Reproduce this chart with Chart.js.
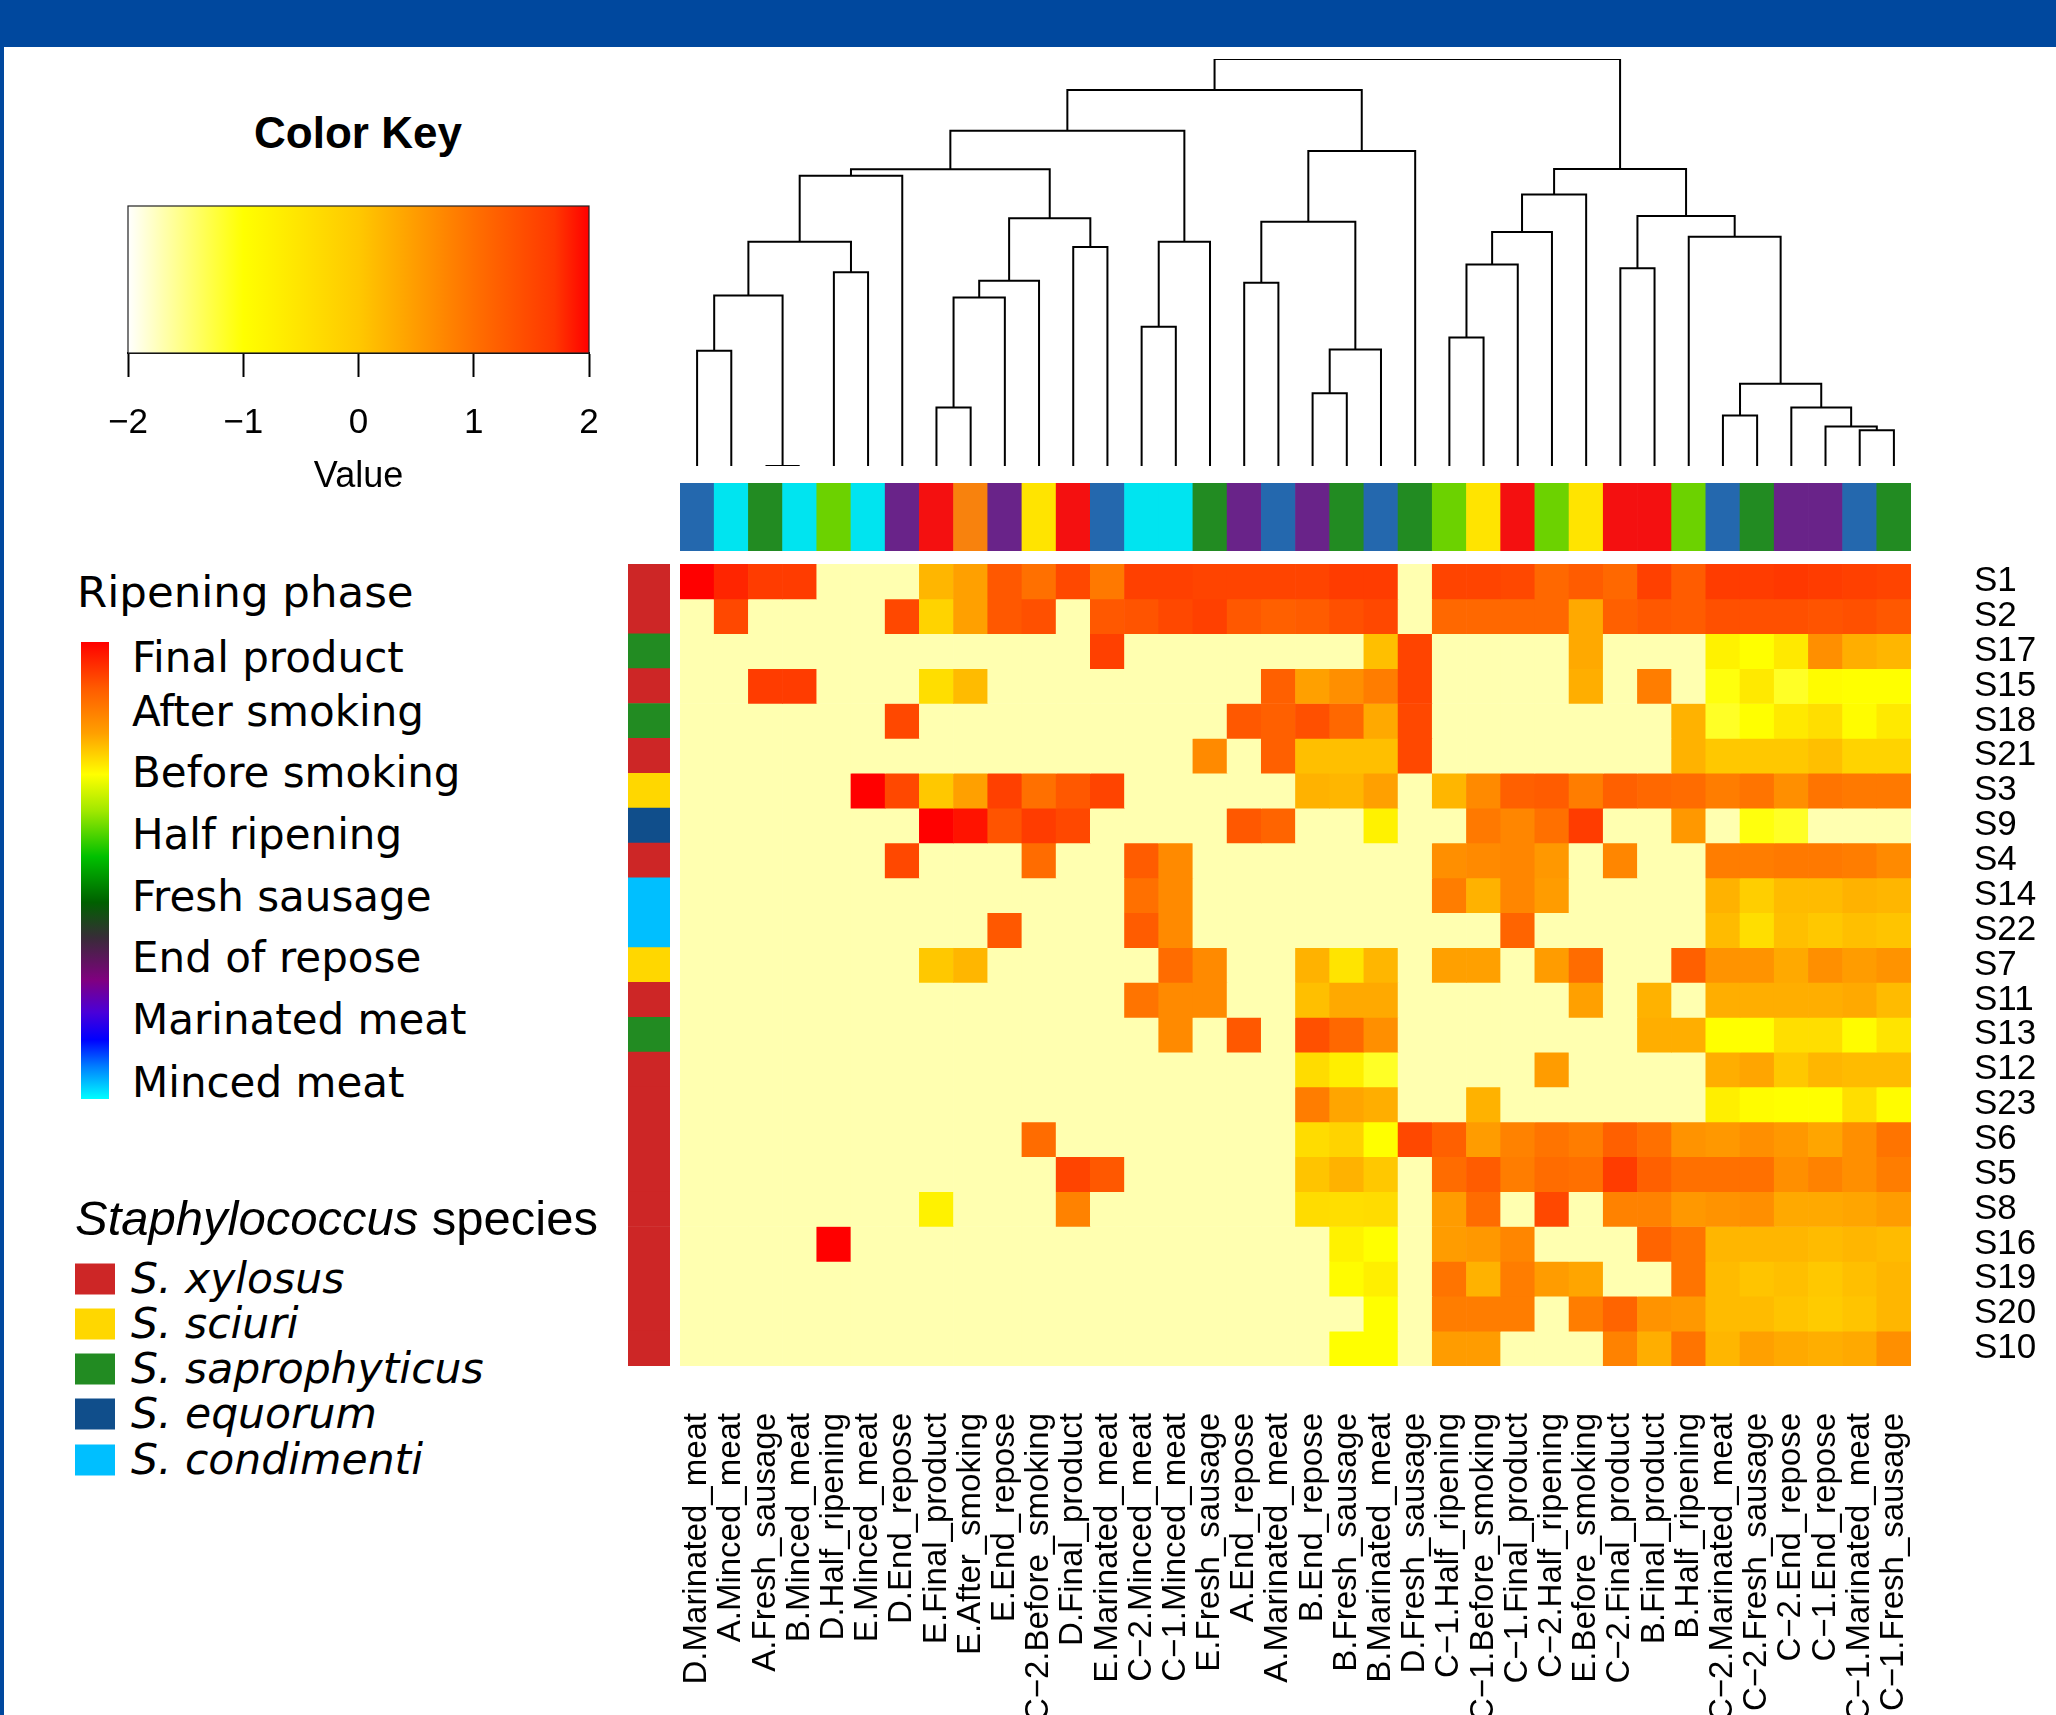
<!DOCTYPE html>
<html>
<head>
<meta charset="utf-8">
<script src="https://cdn.jsdelivr.net/npm/chart.js@4/dist/chart.umd.min.js"></script>
<style>
html,body{margin:0;padding:0;background:#fff;}
body{width:2056px;height:1715px;position:relative;overflow:hidden;}
#banner{position:absolute;left:0;top:0;width:2056px;height:47px;background:#00489E;}
#leftedge{position:absolute;left:0;top:0;width:4px;height:1715px;background:#00489E;}
canvas{position:absolute;}
.t{position:absolute;white-space:nowrap;color:#000;line-height:1;}
.ph{font-family:'DejaVu Sans',Verdana,sans-serif;font-size:42px;transform:translateY(-50%);left:132px;}
.sp{font-family:'DejaVu Sans',Verdana,sans-serif;font-style:italic;font-size:42.5px;transform:translateY(-50%);left:131px;}
.sq{position:absolute;left:75px;width:40px;height:31px;transform:translateY(-50%);}
</style>
</head>
<body>
<div id="banner"></div>
<div id="leftedge"></div>

<div class="t" style="left:358px;top:133px;transform:translate(-50%,-50%);font-family:'Liberation Sans',Arial,sans-serif;font-weight:bold;font-size:44px;">Color Key</div>

<div class="t" style="left:77px;top:593px;transform:translateY(-50%);font-family:'DejaVu Sans',Verdana,sans-serif;font-size:43.5px;">Ripening phase</div>
<div id="phaseGrad" style="position:absolute;left:81px;top:642px;width:28px;height:457px;"></div>
<div id="phaseLabels"></div>

<div class="t" style="left:75px;top:1218px;transform:translateY(-50%);font-family:'Liberation Sans',Arial,sans-serif;font-size:49px;"><i>Staphylococcus</i> species</div>
<div id="speciesLegend"></div>

<canvas id="keyChart" width="581" height="305" style="left:68px;top:196px;"></canvas>
<canvas id="dendro" width="1251" height="427" style="left:670px;top:49px;"></canvas>
<canvas id="phaseBar" width="1231" height="68" style="left:680px;top:483px;"></canvas>
<canvas id="speciesBar" width="42" height="802" style="left:628px;top:564px;"></canvas>
<canvas id="heat" width="1416" height="1251" style="left:640px;top:464px;"></canvas>

<script>
// ---------------- data ----------------
const columnLabels = ['D.Marinated_meat','A.Minced_meat','A.Fresh_sausage','B.Minced_meat','D.Half_ripening','E.Minced_meat','D.End_repose','E.Final_product','E.After_smoking','E.End_repose','C\u22122.Before_smoking','D.Final_product','E.Marinated_meat','C\u22122.Minced_meat','C\u22121.Minced_meat','E.Fresh_sausage','A.End_repose','A.Marinated_meat','B.End_repose','B.Fresh_sausage','B.Marinated_meat','D.Fresh_sausage','C\u22121.Half_ripening','C\u22121.Before_smoking','C\u22121.Final_product','C\u22122.Half_ripening','E.Before_smoking','C\u22122.Final_product','B.Final_product','B.Half_ripening','C\u22122.Marinated_meat','C\u22122.Fresh_sausage','C\u22122.End_repose','C\u22121.End_repose','C\u22121.Marinated_meat','C\u22121.Fresh_sausage'];

const columnPhases = ['Marinated meat','Minced meat','Fresh sausage','Minced meat','Half ripening','Minced meat','End of repose','Final product','After smoking','End of repose','Before smoking','Final product','Marinated meat','Minced meat','Minced meat','Fresh sausage','End of repose','Marinated meat','End of repose','Fresh sausage','Marinated meat','Fresh sausage','Half ripening','Before smoking','Final product','Half ripening','Before smoking','Final product','Final product','Half ripening','Marinated meat','Fresh sausage','End of repose','End of repose','Marinated meat','Fresh sausage'];

const rowLabels = ['S1','S2','S17','S15','S18','S21','S3','S9','S4','S14','S22','S7','S11','S13','S12','S23','S6','S5','S8','S16','S19','S20','S10'];

const rowSpecies = ['S. xylosus','S. xylosus','S. saprophyticus','S. xylosus','S. saprophyticus','S. xylosus','S. sciuri','S. equorum','S. xylosus','S. condimenti','S. condimenti','S. sciuri','S. xylosus','S. saprophyticus','S. xylosus','S. xylosus','S. xylosus','S. xylosus','S. xylosus','S. xylosus','S. xylosus','S. xylosus','S. xylosus'];

const phaseNames = ['Final product','After smoking','Before smoking','Half ripening','Fresh sausage','End of repose','Marinated meat','Minced meat'];
const phaseColors = ['#F41010','#F8820D','#FFE400','#6CD200','#228B22','#692389','#2468AE','#00E4F0'];

const speciesNames = ['S. xylosus','S. sciuri','S. saprophyticus','S. equorum','S. condimenti'];
const speciesColors = ['#CD2626','#FFD700','#228B22','#104E8B','#00BFFF'];

const keyTicks = [-2,-1,0,1,2];

// colour ramp (value -> colour)
const rampStops = [[-2,'#FFFFFF'],[-1.7,'#FFFFB0'],[-1,'#FFFF00'],[-0.5,'#FFE400'],[0,'#FFC800'],[0.5,'#FF9C00'],[1,'#FF7000'],[1.5,'#FF4800'],[1.7,'#FF3800'],[2,'#FF0000']];

const BG = -1.7; // absent / background value

// heatmap values, one array per row (rows in displayed order), 36 columns each
const rowS1  = [2.0,1.8,1.65,1.65,BG,BG,BG,0.2,0.45,1.3,1.0,1.5,0.9,1.6,1.6,1.55,1.55,1.55, 1.55,1.65,1.65,BG,1.55,1.55,1.5,1.1,1.25,1.1,1.6,1.25,1.65,1.65,1.7,1.65,1.6,1.55];
const rowS2  = [BG,1.5,BG,BG,BG,BG,1.5,-0.2,0.45,1.3,1.4,BG,1.3,1.35,1.5,1.6,1.3,1.2, 1.25,1.4,1.5,BG,1.1,1.1,1.1,1.1,0.35,1.2,1.3,1.25,1.4,1.4,1.4,1.35,1.4,1.3];
const rowS17 = [BG,BG,BG,BG,BG,BG,BG,BG,BG,BG,BG,BG,1.6,BG,BG,BG,BG,BG, BG,BG,0.1,1.55,BG,BG,BG,BG,0.35,BG,BG,BG,-0.75,-1.0,-0.6,0.65,0.3,0.2];
const rowS15 = [BG,BG,1.65,1.65,BG,BG,BG,-0.4,0.15,BG,BG,BG,BG,BG,BG,BG,BG,1.2, 0.45,0.65,0.85,1.55,BG,BG,BG,BG,0.3,BG,0.85,BG,-1.05,-0.6,-1.15,-0.95,-1.0,-1.0];
const rowS18 = [BG,BG,BG,BG,BG,BG,1.5,BG,BG,BG,BG,BG,BG,BG,BG,BG,1.3,1.2, 1.4,1.1,0.35,1.5,BG,BG,BG,BG,BG,BG,BG,0.25,-1.15,-1.0,-0.6,-0.4,-0.95,-0.6];
const rowS21 = [BG,BG,BG,BG,BG,BG,BG,BG,BG,BG,BG,BG,BG,BG,BG,0.7,BG,1.2, 0.1,0.1,0.1,1.5,BG,BG,BG,BG,BG,BG,BG,0.25,0.0,0.0,0.0,0.1,-0.2,-0.2];
const rowS3  = [BG,BG,BG,BG,BG,2.0,1.5,0.0,0.45,1.6,1.0,1.3,1.55,BG,BG,BG,BG,BG, 0.25,0.2,0.45,BG,0.2,0.7,1.2,1.25,0.85,1.2,1.1,1.05,0.85,0.95,0.65,0.95,0.9,0.9];
const rowS9  = [BG,BG,BG,BG,BG,BG,BG,2.0,1.9,1.35,1.65,1.5,BG,BG,BG,BG,1.3,1.15, BG,BG,-0.75,BG,BG,0.9,0.75,1.0,1.65,BG,BG,0.55,BG,-1.05,-1.15,BG,BG,BG];
const rowS4  = [BG,BG,BG,BG,BG,BG,1.5,BG,BG,BG,1.05,BG,BG,1.25,0.7,BG,BG,BG, BG,BG,BG,BG,0.65,0.7,0.75,0.55,BG,0.75,BG,BG,0.85,0.85,0.9,0.9,0.85,0.7];
const rowS14 = [BG,BG,BG,BG,BG,BG,BG,BG,BG,BG,BG,BG,BG,1.0,0.7,BG,BG,BG, BG,BG,BG,BG,0.85,0.25,0.75,0.5,BG,BG,BG,BG,0.25,-0.1,0.15,0.15,0.25,0.2];
const rowS22 = [BG,BG,BG,BG,BG,BG,BG,BG,BG,1.3,BG,BG,BG,1.25,0.7,BG,BG,BG, BG,BG,BG,BG,BG,BG,1.15,BG,BG,BG,BG,BG,0.15,-0.4,0.1,0.0,0.1,0.05];
const rowS7  = [BG,BG,BG,BG,BG,BG,BG,0.0,0.2,BG,BG,BG,BG,BG,1.05,0.7,BG,BG, 0.25,-0.5,0.2,BG,0.45,0.45,BG,0.5,1.05,BG,BG,1.2,0.6,0.6,0.35,0.65,0.5,0.6];
const rowS11 = [BG,BG,BG,BG,BG,BG,BG,BG,BG,BG,BG,BG,BG,0.95,0.7,0.7,BG,BG, 0.1,0.35,0.35,BG,BG,BG,BG,BG,0.45,BG,0.25,BG,0.3,0.3,0.3,0.3,0.35,0.15];
const rowS13 = [BG,BG,BG,BG,BG,BG,BG,BG,BG,BG,BG,BG,BG,BG,0.7,BG,1.3,BG, 1.4,1.1,0.65,BG,BG,BG,BG,BG,BG,BG,0.3,0.3,-1.0,-1.0,-0.4,-0.4,-0.95,-0.5];
const rowS12 = [BG,BG,BG,BG,BG,BG,BG,BG,BG,BG,BG,BG,BG,BG,BG,BG,BG,BG, -0.35,-0.7,-1.15,BG,BG,BG,BG,0.5,BG,BG,BG,BG,0.3,0.4,0.0,0.2,0.15,0.15];
const rowS23 = [BG,BG,BG,BG,BG,BG,BG,BG,BG,BG,BG,BG,BG,BG,BG,BG,BG,BG, 0.85,0.4,0.3,BG,BG,0.25,BG,BG,BG,BG,BG,BG,-0.7,-0.95,-1.0,-1.0,-0.4,-0.95];
const rowS6  = [BG,BG,BG,BG,BG,BG,BG,BG,BG,BG,1.05,BG,BG,BG,BG,BG,BG,BG, -0.35,-0.2,-1.0,1.5,1.2,0.5,0.8,0.95,0.85,1.2,1.0,0.6,0.55,0.65,0.55,0.4,0.65,0.95];
const rowS5  = [BG,BG,BG,BG,BG,BG,BG,BG,BG,BG,BG,1.55,1.3,BG,BG,BG,BG,BG, 0.05,0.25,0.0,BG,1.05,1.25,0.85,1.05,1.0,1.65,1.2,1.0,1.0,1.0,0.65,0.8,0.65,0.85];
const rowS8  = [BG,BG,BG,BG,BG,BG,BG,-0.75,BG,BG,BG,0.8,BG,BG,BG,BG,BG,BG, -0.35,-0.4,-0.35,BG,0.5,1.05,BG,1.5,BG,0.8,0.8,0.55,0.6,0.65,0.35,0.35,0.4,0.5];
const rowS16 = [BG,BG,BG,BG,2.0,BG,BG,BG,BG,BG,BG,BG,BG,BG,BG,BG,BG,BG, BG,-0.75,-1.0,BG,0.5,0.55,0.75,BG,BG,BG,1.15,0.95,0.2,0.2,0.2,0.15,0.2,0.15];
const rowS19 = [BG,BG,BG,BG,BG,BG,BG,BG,BG,BG,BG,BG,BG,BG,BG,BG,BG,BG, BG,-0.95,-0.7,BG,0.95,0.25,0.85,0.5,0.4,BG,BG,0.95,0.15,0.05,0.1,0.0,0.1,0.2];
const rowS20 = [BG,BG,BG,BG,BG,BG,BG,BG,BG,BG,BG,BG,BG,BG,BG,BG,BG,BG, BG,BG,-1.0,BG,0.85,0.85,0.85,BG,0.85,1.15,0.6,0.55,0.15,0.15,0.05,-0.05,0.05,0.2];
const rowS10 = [BG,BG,BG,BG,BG,BG,BG,BG,BG,BG,BG,BG,BG,BG,BG,BG,BG,BG, BG,-1.0,-1.0,BG,0.5,0.5,BG,BG,BG,0.8,0.3,0.95,0.2,0.45,0.35,0.3,0.35,0.65];

const heatValues = [rowS1,rowS2,rowS17,rowS15,rowS18,rowS21,rowS3,rowS9,rowS4,rowS14,rowS22,rowS7,rowS11,rowS13,rowS12,rowS23,rowS6,rowS5,rowS8,rowS16,rowS19,rowS20,rowS10];

// column dendrogram (hclust-style merges: negative = leaf position, positive = earlier merge)
const mergePairs = [[-3,-4],[-35,-36],[-34,2],[-31,-32],[-8,-9],[-33,3],[-19,-20],[4,6],[-1,-2],[7,-21],[-23,-24],[-14,-15],[5,-10],[9,1],[-17,-18],[13,-11],[-5,-6],[-28,-29],[11,-25],[-12,-13],[14,17],[12,-16],[-30,8],[19,-26],[15,10],[16,20],[18,23],[24,-27],[21,-7],[29,26],[28,27],[25,-22],[30,22],[33,32],[34,31]];
const mergeHeights = [0,8.8,9.7,12.4,14.4,14.4,17.9,20.2,28.3,28.6,31.6,34.2,41.4,41.9,45.0,45.5,47.6,48.6,49.5,53.8,55.1,55.1,56.3,57.5,60.0,60.9,61.4,66.7,71.3,72.9,73.0,77.4,82.4,92.4,100];

// ---------------- helpers ----------------
Chart.defaults.color = '#000';
Chart.defaults.font.family = "'Liberation Sans', Arial, sans-serif";
Chart.defaults.animation = false;

function hexToRgb(h){ return [parseInt(h.slice(1,3),16),parseInt(h.slice(3,5),16),parseInt(h.slice(5,7),16)]; }
function rampColor(v){
  const s = rampStops;
  if (v <= s[0][0]) return s[0][1];
  for (let i = 1; i < s.length; i++) {
    if (v <= s[i][0]) {
      const t = (v - s[i-1][0]) / (s[i][0] - s[i-1][0]);
      const a = hexToRgb(s[i-1][1]), b = hexToRgb(s[i][1]);
      return 'rgb(' + a.map((c, k) => Math.round(c + (b[k] - c) * t)).join(',') + ')';
    }
  }
  return s[s.length-1][1];
}
const phaseColorOf = p => phaseColors[phaseNames.indexOf(p)];
const speciesColorOf = s => speciesColors[speciesNames.indexOf(s)];
const noPlugins = {legend:{display:false}, tooltip:{enabled:false}};

// ---------------- HTML legends ----------------
document.getElementById('phaseGrad').style.background =
  'linear-gradient(to bottom,#FF0000 0%,#FF5A00 10%,#FFA000 20%,#FFFF00 29%,#A0E800 37%,#00C000 47%,#006000 57%,#3A2A3A 65%,#800080 74%,#4A00D8 81%,#0000FF 87%,#0080FF 93%,#00FFFF 100%)';
const phaseY = [658,712,773,835,897,958,1020,1083];
const phaseLegendLabels = ['Final product','After smoking','Before smoking','Half ripening','Fresh sausage','End of repose','Marinated meat','Minced meat'];
document.getElementById('phaseLabels').innerHTML = phaseLegendLabels.map((l, i) =>
  `<div class="t ph" style="top:${phaseY[i]}px;">${l}</div>`).join('');
const speciesY = [1279,1324,1369,1414,1460];
document.getElementById('speciesLegend').innerHTML = speciesNames.map((s, i) =>
  `<div class="sq" style="top:${speciesY[i]}px;background:${speciesColors[i]};"></div><div class="t sp" style="top:${speciesY[i]}px;">${s}</div>`).join('');

// ---------------- colour key ----------------
const boxPlugin = {
  id:'box',
  afterDatasetsDraw(chart){
    const a = chart.chartArea, c = chart.ctx;
    c.save(); c.strokeStyle = '#222'; c.lineWidth = 1.2;
    c.strokeRect(a.left, a.top, a.right - a.left, a.bottom - a.top);
    c.restore();
  }
};
new Chart(document.getElementById('keyChart'), {
  type:'bar',
  data:{labels:['key'], datasets:[{
    data:[[keyTicks[0], keyTicks[keyTicks.length-1]]],
    backgroundColor(ctx){
      const ch = ctx.chart, a = ch.chartArea;
      if (!a) return '#fff';
      const xs = ch.scales.x;
      const x0 = xs.getPixelForValue(rampStops[0][0]), x1 = xs.getPixelForValue(rampStops[rampStops.length-1][0]);
      const g = ch.ctx.createLinearGradient(x0, 0, x1, 0);
      rampStops.forEach(([v, col]) => g.addColorStop((v - rampStops[0][0]) / (rampStops[rampStops.length-1][0] - rampStops[0][0]), col));
      return g;
    },
    borderWidth:0, barPercentage:1, categoryPercentage:1
  }]},
  options:{
    indexAxis:'y', responsive:false, animation:false,
    layout:{padding:{left:60,right:60,top:10,bottom:0}},
    plugins:noPlugins,
    scales:{
      y:{display:false},
      x:{type:'linear', min:-2, max:2, position:'bottom',
         afterBuildTicks(s){ s.ticks = keyTicks.map(v => ({value:v})); },
         grid:{display:true, drawOnChartArea:false, drawTicks:true, tickLength:24, tickColor:'#000', tickWidth:2},
         border:{display:true, color:'#000', width:2},
         ticks:{padding:25, font:{size:35}, color:'#000', callback:v => v < 0 ? '\u2212' + Math.abs(v) : String(v)},
         title:{display:true, text:'Value', font:{size:36}, color:'#000', padding:{top:0,bottom:2}},
         afterFit(s){ s.height = 148; }
      }
    }
  },
  plugins:[boxPlugin]
});

// ---------------- dendrogram ----------------
const nodeX = [], nodeH = [];
function childPos(c){ return c < 0 ? [-c, 0] : [nodeX[c-1], nodeH[c-1]]; }
const dendroSets = mergePairs.map((pair, k) => {
  const [xa, ha] = childPos(pair[0]);
  const [xb, hb] = childPos(pair[1]);
  const h = mergeHeights[k];
  nodeX[k] = (xa + xb) / 2; nodeH[k] = h;
  return {data:[{x:xa,y:ha},{x:xa,y:h},{x:xb,y:h},{x:xb,y:hb}],
          showLine:true, borderColor:'#000', borderWidth:2, pointRadius:0, tension:0, fill:false};
});
new Chart(document.getElementById('dendro'), {
  type:'scatter',
  data:{datasets:dendroSets},
  options:{responsive:false, animation:false, layout:{padding:10}, plugins:noPlugins,
    scales:{x:{type:'linear', min:0.5, max:columnLabels.length + 0.5, display:false},
            y:{type:'linear', min:0, max:100, display:false}}}
});

// ---------------- column phase bar ----------------
new Chart(document.getElementById('phaseBar'), {
  type:'bar',
  data:{labels:columnLabels, datasets:[{data:columnLabels.map(() => [0,1]),
    backgroundColor:columnPhases.map(phaseColorOf), borderWidth:0, barPercentage:1, categoryPercentage:1}]},
  options:{responsive:false, animation:false, plugins:noPlugins,
    scales:{x:{display:false}, y:{min:0, max:1, display:false}}}
});

// ---------------- row species bar ----------------
new Chart(document.getElementById('speciesBar'), {
  type:'bar',
  data:{labels:rowLabels, datasets:[{data:rowLabels.map(() => [0,1]),
    backgroundColor:rowSpecies.map(speciesColorOf), borderWidth:0, barPercentage:1, categoryPercentage:1}]},
  options:{indexAxis:'y', responsive:false, animation:false, plugins:noPlugins,
    scales:{y:{display:false}, x:{min:0, max:1, display:false}}}
});

// ---------------- heatmap ----------------
const heatDatasets = rowLabels.map((r, i) => ({
  label:r,
  data:columnLabels.map(() => [i, i + 1]),
  backgroundColor:heatValues[i].map(rampColor),
  borderWidth:0, barPercentage:1, categoryPercentage:1, grouped:false,
  xAxisID:'x', yAxisID:'y'
}));
new Chart(document.getElementById('heat'), {
  type:'bar',
  data:{labels:columnLabels, datasets:heatDatasets},
  options:{responsive:false, animation:false,
    layout:{padding:{left:40, top:100, right:0, bottom:0}},
    plugins:noPlugins,
    scales:{
      x:{type:'category', offset:true, grid:{display:false, drawTicks:false}, border:{display:false},
         ticks:{autoSkip:false, maxRotation:90, minRotation:90, padding:47, font:{size:33}, color:'#000'},
         afterFit(s){ s.height = 349; }},
      y:{type:'linear', min:0, max:rowLabels.length, reverse:true, display:false},
      yr:{type:'category', labels:rowLabels, position:'right', offset:true,
          grid:{display:false, drawTicks:false}, border:{display:false},
          ticks:{autoSkip:false, padding:63, font:{size:35}, color:'#000'},
          afterFit(s){ s.width = 145; }}
    }
  }
});
</script>
</body>
</html>
